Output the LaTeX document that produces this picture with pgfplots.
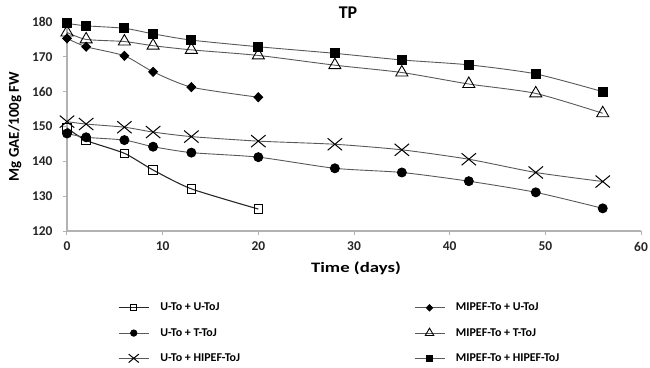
\documentclass[border=0pt]{standalone}
\usepackage{pgfplots}
\pgfplotsset{compat=1.18}
\usepackage{graphicx}
\usepackage{fontspec}
\setmainfont{Carlito}
\begin{document}
\begin{tikzpicture}
\useasboundingbox (-67bp,-137bp) rectangle (583bp,231bp);
\begin{axis}[
 at={(0,0)}, anchor=south west,
 scale only axis, width=574bp, height=209bp,
 xmin=0, xmax=60, ymin=120, ymax=180,
 xtick={0,10,...,60}, ytick={120,130,...,180},
 axis x line*=bottom, axis y line*=left,
 axis line style={draw=black!30, line width=1.2bp},
 tick align=outside, major tick length=4bp,
 tick style={black!30, line width=1bp},
 ticklabel style={font=\fontsize{13.5}{15}\selectfont\bfseries, text=black!85},
 xticklabel style={yshift=-3.5bp},
 yticklabel style={xshift=-7bp},
 /pgf/number format/assume math mode=true,
 title={TP},
 title style={font=\fontsize{18}{19}\selectfont\bfseries, at={(axis description cs:0.5,1)}, anchor=center, xshift=-6bp, yshift=3bp},
 xlabel={\scalebox{1.3}[1]{Time (days)}},
 xlabel style={font=\fontsize{14.5}{16}\selectfont\bfseries, at={(axis description cs:0.5,0)}, anchor=center, xshift=2bp, yshift=-37bp},
 ylabel={Mg GAE/100g FW},
 ylabel style={font=\fontsize{15}{16}\selectfont\bfseries, at={(axis description cs:-0.0906,0.5)}, anchor=center},
 every axis plot/.append style={line width=0.9bp, draw=black!65, smooth, tension=0.4},
 legend columns=2,
 legend cell align=left,
 legend image code/.code={\draw[mark repeat=2,mark phase=2,#1,/tikz/every mark/.append style={scale=0.7}] plot coordinates {(0bp,0bp) (15bp,0bp) (30bp,0bp)};},
 legend style={at={(axis description cs:0,0)}, anchor=north west, xshift=51bp, yshift=-70bp, draw=none, inner sep=0pt,
   font=\fontsize{12}{13}\selectfont\bfseries, row sep=12bp,
   nodes={inner sep=2bp},
   /tikz/every odd column/.append style={column sep=9bp},
   /tikz/every even column/.append style={column sep=172bp}},
]
% U-To + U-ToJ
\addplot[mark=square, mark size=4.3bp, mark options={solid, draw=black, fill=white, line width=0.9bp}, draw=black!85, line width=1.1bp]
 coordinates {(0,149.6) (2,146.0) (6,142.3) (9,137.5) (13,132.1) (20,126.3)};
\addlegendentry{U-To + U-ToJ}
% MIPEF-To + U-ToJ
\addplot[mark=diamond*, mark size=4.5bp, mark options={solid, draw=black, fill=black, xscale=1.3}]
 coordinates {(0,175.3) (2,172.9) (6,170.3) (9,165.7) (13,161.3) (20,158.4)};
\addlegendentry{MIPEF-To + U-ToJ}
% U-To + T-ToJ
\addplot[mark=*, mark size=4.5bp, mark options={solid, draw=black, fill=black}]
 coordinates {(0,148.0) (2,146.9) (6,146.1) (9,144.2) (13,142.5) (20,141.2) (28,138.0) (35,136.8) (42,134.3) (49,131.1) (56,126.5)};
\addlegendentry{U-To + T-ToJ}
% MIPEF-To + T-ToJ
\addplot[mark=triangle, mark size=7bp, mark options={solid, draw=black, fill=white, line width=0.9bp}]
 coordinates {(0,177.0) (2,175.0) (6,174.4) (9,173.2) (13,172.0) (20,170.4) (28,167.6) (35,165.5) (42,162.2) (49,159.5) (56,153.8)};
\addlegendentry{MIPEF-To + T-ToJ}
% U-To + HIPEF-ToJ
\addplot[mark=x, mark size=8.5bp, mark options={solid, draw=black, line width=1bp, xscale=1.2}]
 coordinates {(0,151.4) (2,150.7) (6,149.8) (9,148.4) (13,147.1) (20,145.8) (28,144.9) (35,143.3) (42,140.6) (49,136.8) (56,134.2)};
\addlegendentry{U-To + HIPEF-ToJ}
% MIPEF-To + HIPEF-ToJ
\addplot[mark=square*, mark size=4.5bp, mark options={solid, draw=black, fill=black}]
 coordinates {(0,179.6) (2,178.9) (6,178.2) (9,176.6) (13,174.8) (20,172.9) (28,171.0) (35,169.1) (42,167.7) (49,165.1) (56,160.0)};
\addlegendentry{MIPEF-To + HIPEF-ToJ}
\end{axis}
\end{tikzpicture}
\end{document}
